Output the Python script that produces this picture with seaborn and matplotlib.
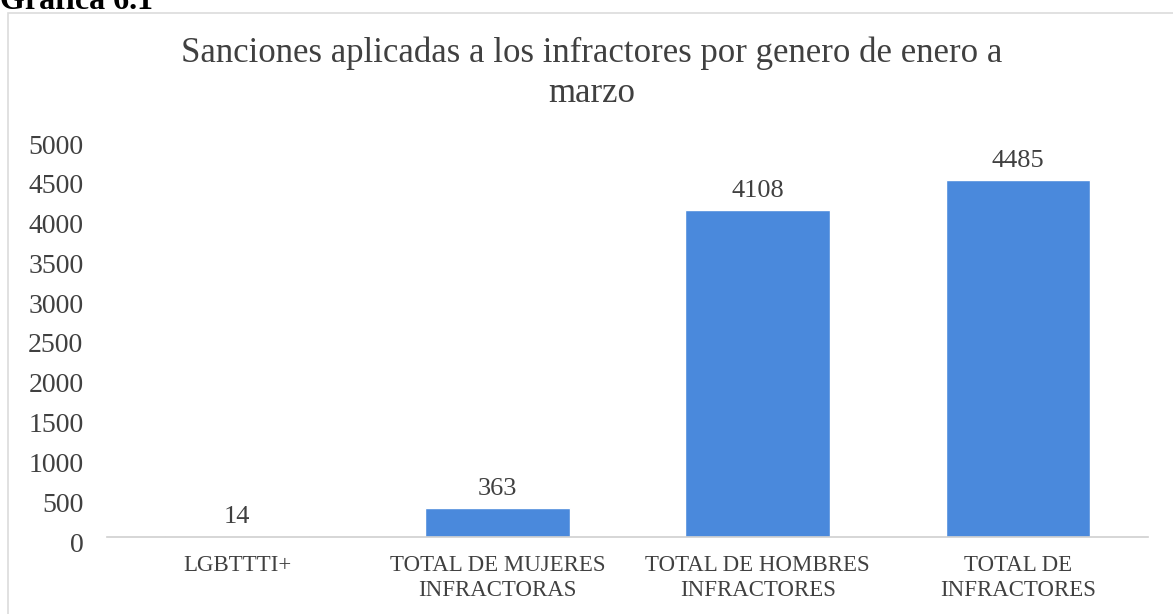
import matplotlib
matplotlib.use("Agg")
import matplotlib.pyplot as plt
import matplotlib.transforms as mtransforms
import seaborn as sns
import pandas as pd
from matplotlib.patches import Rectangle

# data
categorias = ["LGBTTTI+", "TOTAL DE MUJERES\nINFRACTORAS",
              "TOTAL DE HOMBRES\nINFRACTORES", "TOTAL DE\nINFRACTORES"]
sanciones = [14, 363, 4108, 4485]
y_ticks = [0, 500, 1000, 1500, 2000, 2500, 3000, 3500, 4000, 4500, 5000]

titulo = "Sanciones aplicadas a los infractores por genero de enero a\nmarzo"

sns.set_theme(style="white")
plt.rcParams['font.family'] = ['Liberation Serif', 'DejaVu Serif']

df = pd.DataFrame({"categoria": categorias, "sanciones": sanciones})

W, H = 1173, 614
fig = plt.figure(figsize=(W / 100, H / 100), dpi=100)
ax = fig.add_axes([107 / W, 1 - 537 / H, (1148 - 107) / W, (537 - 139) / H])

sns.barplot(data=df, x="categoria", y="sanciones", color="#4A89DC",
            saturation=1, width=0.555, ax=ax)

ax.bar_label(ax.containers[0], labels=[str(v) for v in sanciones],
             padding=6, fontsize=19, color="#404040")

ax.set_ylim(0, 5000)
ax.set_yticks(y_ticks)
ax.set_yticklabels([str(t) for t in y_ticks], fontsize=20, color="#404040")
ax.tick_params(axis='x', labelsize=16.5, labelcolor="#404040", length=0, pad=13)
ax.tick_params(axis='y', length=0, pad=17)
ax.set_xlabel("")
ax.set_ylabel("")
for lbl in ax.get_xticklabels():
    lbl.set_linespacing(1.25)
# y labels sit a few pixels below their gridline values in the original
shift = mtransforms.ScaledTranslation(0, -5 / 100, fig.dpi_scale_trans)
for lbl in ax.get_yticklabels():
    lbl.set_transform(lbl.get_transform() + shift)

for side in ["top", "right", "left"]:
    ax.spines[side].set_visible(False)
ax.spines["bottom"].set_color("#cfcfcf")
ax.spines["bottom"].set_linewidth(1.2)

fig.text(592 / W, 1 - 73 / H, titulo, ha="center", va="center", fontsize=25,
         color="#404040", linespacing=1.3)

# light frame of the embedded chart and the cut-off caption above it
fig.patches.append(Rectangle((8 / W, -0.05), 1.2, 1 - 13 / H + 0.05,
                             transform=fig.transFigure, fill=False,
                             edgecolor="#dcdcdc", linewidth=1.2))
fig.text(0.0, 1 - 9 / H, "Gráfica 6.1", ha="left", va="baseline",
         fontsize=23, fontweight="bold", color="black")

fig.savefig("out.png", dpi=100, facecolor="white")
